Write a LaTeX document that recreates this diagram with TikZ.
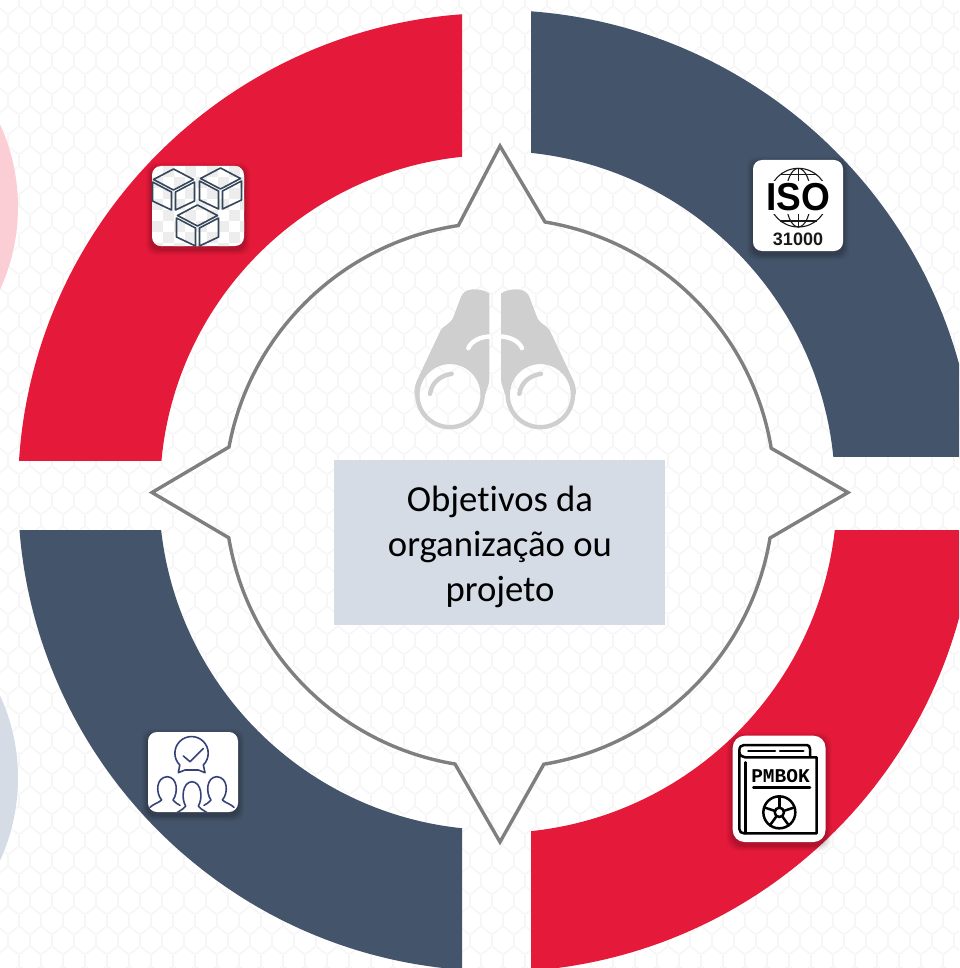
\documentclass[tikz,border=0pt]{standalone}
\usepackage{fontspec}
\setmainfont[Ligatures=NoCommon]{Carlito}
\newfontfamily\isofont{Liberation Sans}
\newfontfamily\bookfont{Liberation Mono}
\definecolor{ringred}{HTML}{E51A3A}
\definecolor{ringnavy}{HTML}{44546A}
\definecolor{paleblue}{HTML}{D5DCE6}
\definecolor{palepink}{HTML}{FBCDD5}
\definecolor{scalecol}{HTML}{F6F6F6}
\definecolor{starline}{HTML}{7F7F7F}
\definecolor{bino}{HTML}{D0CFCF}
\definecolor{cubeline}{HTML}{36465A}
\definecolor{peopleline}{HTML}{35427A}
\tikzset{
  ringpart/.style={even odd rule},
  scalestroke/.style={draw=scalecol,line width=1.4pt,rounded corners=3pt},
  cubestroke/.style={draw=cubeline,line width=1.6pt,line join=round},
  peoplestroke/.style={draw=peopleline,line width=1.6pt,line cap=round,line join=round},
  bookstroke/.style={draw=black,line width=2.5pt,line cap=round,line join=round},
  globestroke/.style={draw=black!90,line width=1.1pt},
}
\newcommand{\iconcard}[5]{% x0 y0 x1 y1 radius
  \foreach \g/\o in {6/0.04,4.5/0.05,3/0.07,1.5/0.08}{
    \fill[black,opacity=\o,rounded corners=#5pt] (#1-\g,#2-\g+3) rectangle (#3+\g,#4+\g+3);
  }
  \fill[white,rounded corners=#5pt] (#1,#2) rectangle (#3,#4);
}
\newcommand{\isocube}[2]{% centre x, top y
  \draw[cubestroke] (#1,#2) -- (#1+20,#2+10.5) -- (#1,#2+21) -- (#1-20,#2+10.5) -- cycle;
  \draw[cubestroke] (#1-21,#2+13) -- (#1-2,#2+23) -- (#1-2,#2+41) -- (#1-21,#2+32) -- cycle;
  \draw[cubestroke] (#1+21,#2+13) -- (#1+2,#2+23) -- (#1+2,#2+41) -- (#1+21,#2+32) -- cycle;
}
\begin{document}
\begin{tikzpicture}[yscale=-1,x=1pt,y=1pt]
\useasboundingbox (0,0) rectangle (959,968);
\clip (0,0) rectangle (959,968);
\fill[white] (0,0) rectangle (959,968);
% background scale pattern
\foreach \r in {-1,...,49}{
  \foreach \c in {-1,...,44}{
    \pgfmathsetmacro{\px}{\c*22+8+mod(\r+2,2)*11}
    \pgfmathsetmacro{\py}{\r*20+6}
    \draw[scalestroke] (\px-11,\py) -- (\px,\py+9) -- (\px+11,\py);
    \draw[draw=scalecol,line width=1.4pt] (\px,\py+9) -- (\px,\py+20);
  }
}
% partial circles at the left edge
\fill[palepink] (-180,207) circle[radius=198];
\fill[paleblue] (-180,778) circle[radius=198];
% ring quadrants
\begin{scope}
  \clip (0,0) rectangle (462,460);
  \fill[ringred,ringpart] (497,492) circle[radius=479] (497,492) circle[radius=337];
\end{scope}
\begin{scope}
  \clip (531,0) rectangle (959,456);
  \fill[ringnavy,ringpart] (495,491) circle[radius=481] (495,491) circle[radius=340];
\end{scope}
\begin{scope}
  \clip (531,530) rectangle (959,968);
  \fill[ringred,ringpart] (495,491) circle[radius=481] (495,491) circle[radius=342];
\end{scope}
\begin{scope}
  \clip (0,530) rectangle (462,968);
  \fill[ringnavy,ringpart] (497,492) circle[radius=479] (497,492) circle[radius=338];
\end{scope}
% compass outline
\draw[starline,line width=3.4pt,line join=miter]
  (500,146) -- (545,222) arc[start angle=-80.57,end angle=-9.43,radius=275]
  -- (848,492.5) -- (770,538) arc[start angle=9.43,end angle=80.57,radius=275]
  -- (500,842) -- (455,764) arc[start angle=99.43,end angle=170.57,radius=275]
  -- (152,492.5) -- (229,447) arc[start angle=190.57,end angle=261.43,radius=275]
  -- cycle;
% binoculars
\begin{scope}[shift={(400,279.5)},scale=1/3]
  \fill[bino] (268,42) .. controls (255,32) and (232,28) .. (215,30)
    .. controls (197,32) and (188,40) .. (183,52) -- (158,118)
    .. controls (150,132) and (130,140) .. (122,152) -- (50,305)
    .. controls (44,320) and (42,335) .. (44,345) -- (58,345)
    arc[start angle=180,end angle=360,radius=92] -- (256,345)
    .. controls (258,330) and (268,320) .. (268,295) -- cycle;
  \fill[bino] (303,42) .. controls (316,32) and (339,28) .. (356,30)
    .. controls (374,32) and (383,40) .. (388,52) -- (413,118)
    .. controls (421,132) and (441,140) .. (449,152) -- (521,305)
    .. controls (527,320) and (529,335) .. (527,345) -- (513,345)
    arc[start angle=360,end angle=180,radius=92] -- (315,345)
    .. controls (313,330) and (303,320) .. (303,295) -- cycle;
  \draw[bino,line width=4.4pt] (150,345) circle[radius=98];
  \draw[bino,line width=4.4pt] (421,345) circle[radius=98];
  \draw[white,line width=4.4pt,line cap=round] (205,206) .. controls (215,182) and (245,172) .. (268,171);
  \draw[white,line width=4.4pt,line cap=round] (366,206) .. controls (356,182) and (326,172) .. (303,171);
  \draw[bino,line width=4.4pt,line cap=round] (155,283) .. controls (120,288) and (95,310) .. (90,343);
  \draw[bino,line width=4.4pt,line cap=round] (423,283) .. controls (388,288) and (363,310) .. (358,343);
\end{scope}
% central label
\node[fill=paleblue,minimum width=331pt,minimum height=165pt,inner sep=0pt] (objetivosbox) at (499.5,542.5) {};
\node[inner sep=0pt,align=center,font=\fontsize{36.7}{45}\selectfont,text=black] (objetivos) at (500,546.5)
  {Objetivos da\\organização ou\\projeto};
% cubes icon
\iconcard{152}{166}{244}{246}{9}
\begin{scope}
  \clip[rounded corners=9pt] (152,166) rectangle (244,246);
  \foreach \i in {0,...,8}{\foreach \j in {0,...,7}{
    \pgfmathtruncatemacro{\odd}{mod(\i+\j,2)}
    \ifnum\odd=1
      \fill[black!7] (152+\i*11,166+\j*11) rectangle ++(11,11);
    \fi
  }}
\end{scope}
\isocube{173.5}{169}
\isocube{220.5}{168}
\isocube{197.5}{205}
% ISO icon
\iconcard{753}{160}{843}{251}{9}
\begin{scope}[shift={(740,150)},scale=1/3]
  \begin{scope}
    \clip (90,40) rectangle (260,92);
    \draw[globestroke] (175,143) circle[radius=88];
    \draw[globestroke] (175,143) ellipse[x radius=38,y radius=88];
    \draw[globestroke] (175,55) -- (175,95);
    \draw[globestroke] (120,73) -- (230,73);
  \end{scope}
  \begin{scope}
    \clip (90,194) rectangle (260,240);
    \draw[globestroke] (175,143) circle[radius=88];
    \draw[globestroke] (175,143) ellipse[x radius=38,y radius=88];
    \draw[globestroke] (175,190) -- (175,232);
    \draw[globestroke] (120,213) -- (230,213);
  \end{scope}
\end{scope}
\node[inner sep=0pt,text=black,xscale=0.95,font=\isofont\bfseries\fontsize{39}{39}\selectfont] (isotext) at (798,197) {ISO};
\node[inner sep=0pt,text=black!90,font=\isofont\bfseries\fontsize{18}{18}\selectfont] (isonum) at (798,239) {31000};
% people icon
\iconcard{148}{732}{238}{812}{9}
\begin{scope}
\clip[rounded corners=9pt] (148,732) rectangle (238,812);
\begin{scope}[shift={(135,720)},scale=1/3]
  \draw[peoplestroke] (205,135) arc[start angle=45,end angle=-225,radius=50]
    -- (130,158) -- (150,150) -- (190,150) -- (210,158) -- cycle;
  \draw[peoplestroke] (145,108) -- (165,125) -- (205,85);
  % left person
  \draw[peoplestroke] (45,262) .. controls (55,252) and (68,250) .. (80,240)
    .. controls (62,220) and (62,172) .. (97,170) .. controls (128,172) and (130,218) .. (114,240)
    .. controls (120,248) and (128,252) .. (135,256);
  % right person
  \draw[peoplestroke] (297,262) .. controls (287,252) and (274,250) .. (262,240)
    .. controls (280,220) and (280,172) .. (245,170) .. controls (214,172) and (212,218) .. (228,240)
    .. controls (222,248) and (214,252) .. (207,256);
  % middle person
  \draw[peoplestroke] (118,285) .. controls (125,275) and (142,272) .. (152,258)
    .. controls (138,235) and (142,187) .. (171,185) .. controls (200,187) and (204,235) .. (190,258)
    .. controls (200,272) and (217,275) .. (224,285);
\end{scope}
\end{scope}
% PMBOK icon
\iconcard{732.7}{735.7}{825.5}{842}{12}
\begin{scope}[shift={(720,725)},scale=1/3]
  \draw[bookstroke] (270,97) -- (270,72) .. controls (270,64) and (266,60) .. (260,60)
    -- (72,60) .. controls (64,60) and (58,66) .. (58,76) -- (58,312)
    .. controls (58,320) and (64,325) .. (72,325) -- (290,325) -- (290,97) -- (75,97)
    .. controls (66,97) and (58,90) .. (58,80);
  \draw[bookstroke] (76,112) -- (76,325);
  \draw[bookstroke] (85,78) -- (165,78);
  \draw[bookstroke] (180,78) -- (250,78);
  \draw[bookstroke] (100,187) -- (270,187);
  \draw[bookstroke] (178,262) circle[radius=48];
  \draw[bookstroke] (178,262) circle[radius=14];
  \foreach \a in {-90,-18,54,126,198}{
    \draw[bookstroke] (178,262) ++(\a:14) -- ++(\a:34);
  }
\end{scope}
\node[inner sep=0pt,text=black,font=\bookfont\bfseries\fontsize{19.5}{19.5}\selectfont] (pmbok) at (780.5,776) {PMBOK};
\end{tikzpicture}
\end{document}
